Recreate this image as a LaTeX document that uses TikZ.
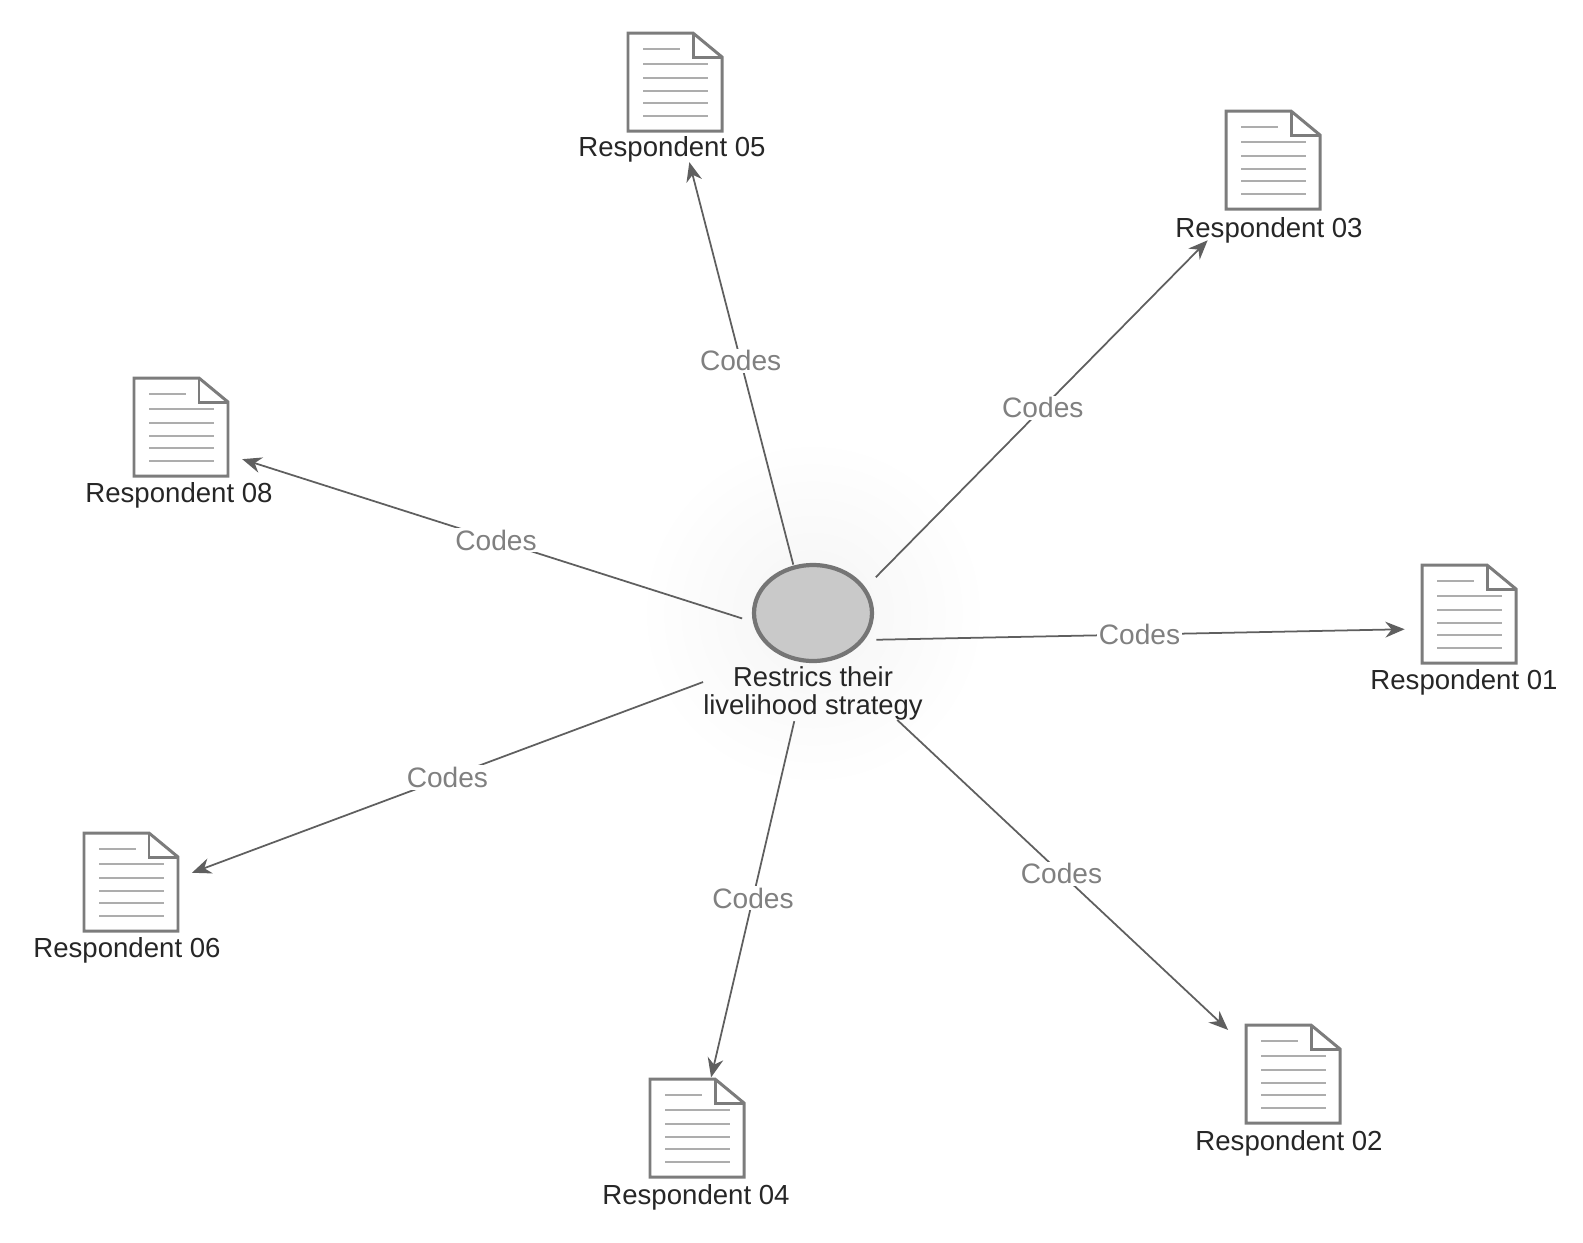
\documentclass[tikz,border=0pt]{standalone}
\usepackage{fontspec}
\setmainfont{Liberation Sans}
\usepackage{xcolor}
\usetikzlibrary{arrows.meta,shapes.geometric}
\definecolor{linkcol}{HTML}{5f5f5f}
\definecolor{codecol}{HTML}{808080}
\definecolor{inkcol}{HTML}{262626}
\definecolor{iconcol}{HTML}{7c7c7c}
\definecolor{rulecol}{HTML}{adadad}
\definecolor{hubcol}{HTML}{c9c9c9}
\definecolor{hubedge}{HTML}{757575}
\tikzset{
  link/.style={draw=linkcol, line width=1pt, -{Stealth[length=11pt,width=9pt]}},
  codes/.style={text=codecol, fill=white, inner sep=1pt, font=\fontsize{16}{18}\selectfont},
  resplabel/.style={text=inkcol, inner sep=0pt, font=\fontsize{15.7}{17}\selectfont},
  spot/.style={inner sep=0pt, minimum size=0pt},
  docicon/.pic={
    \draw[iconcol, line width=1.7pt, fill=white, line join=miter]
      (-47,-49) -- (18,-49) -- (47,-25) -- (47,49) -- (-47,49) -- cycle;
    \draw[iconcol, line width=1.7pt] (18,-49) -- (18,-25) -- (47,-25);
    \draw[rulecol, line width=1.1pt] (-32,-33) -- (5,-33);
    \foreach \ypos in {-18,-4,9,21,34}
      \draw[rulecol, line width=1.1pt] (-32,\ypos) -- (33,\ypos);
  }
}
\begin{document}
\begin{tikzpicture}[x=0.02cm,y=-0.02cm]
\useasboundingbox (0,0) rectangle (1583,1242);

% faint glow behind the code
\fill[inner color=black!4, outer color=white] (813,613) circle (175);
\draw[white, line width=2pt] (813,613) circle (175);

\node[spot] (hubmid) at (813,641) {};
\node[ellipse, draw=hubedge, fill=hubcol, line width=2.4pt, inner sep=0pt, minimum width=2.36cm, minimum height=1.92cm] (hub) at (813,613) {};
\node[align=center, text=inkcol, inner sep=0pt, font=\fontsize{15.6}{16}\selectfont] (hubtext) at (813,693) {Restrics their\\livelihood strategy};

% documents
\node[spot] (resp05) at (672,95) {};
\node[spot] (resp03) at (1269,178) {};
\node[spot] (resp08) at (179,439) {};
\node[spot] (resp01) at (1466,628) {};
\node[spot] (resp06) at (127,897) {};
\node[spot] (resp04) at (696,1142) {};
\node[spot] (resp02) at (1289,1087) {};

\pic at (675,82) {docicon};
\pic at (1273,160) {docicon};
\pic at (181,427) {docicon};
\pic at (1469,614) {docicon};
\pic at (131,882) {docicon};
\pic at (697,1128) {docicon};
\pic at (1293,1074) {docicon};

\node[resplabel] (name05) at (672,149) {Respondent 05};
\node[resplabel] (name03) at (1269,230) {Respondent 03};
\node[resplabel] (name08) at (179,495) {Respondent 08};
\node[resplabel] (name01) at (1464,682) {Respondent 01};
\node[resplabel] (name06) at (127,950) {Respondent 06};
\node[resplabel] (name04) at (696,1197) {Respondent 04};
\node[resplabel] (name02) at (1289,1143) {Respondent 02};

% connectors
\draw[link, shorten <=1.57cm, shorten >=1.38cm] (hubmid) -- node[codes, pos=.513] (code05) {Codes} (resp05);
\draw[link, shorten <=1.78cm, shorten >=1.74cm] (hubmid) -- node[codes, pos=.504] (code03) {Codes} (resp03);
\draw[link, shorten <=1.48cm, shorten >=1.32cm] (hubmid) -- node[codes, pos=.5] (code08) {Codes} (resp08);
\draw[link, shorten <=1.26cm, shorten >=1.22cm] (hubmid) -- node[codes, pos=.5] (code01) {Codes} (resp01);
\draw[link, shorten <=2.34cm, shorten >=1.38cm] (hubmid) -- node[codes, pos=.533] (code06) {Codes} (resp06);
\draw[link, shorten <=1.64cm, shorten >=1.32cm] (hubmid) -- node[codes, pos=.513] (code04) {Codes} (resp04);
\draw[link, shorten <=2.30cm, shorten >=1.66cm] (hubmid) -- node[codes, pos=.522] (code02) {Codes} (resp02);
\end{tikzpicture}
\end{document}
